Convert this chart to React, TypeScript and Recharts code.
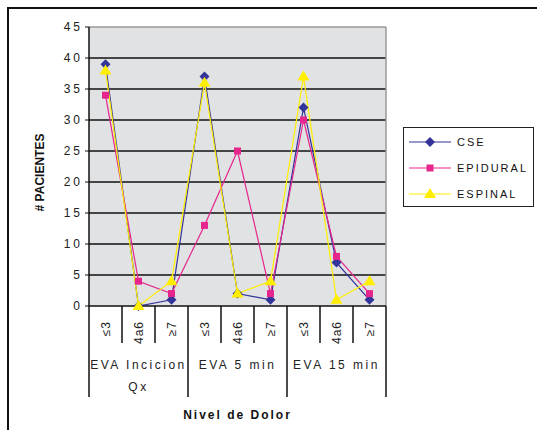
import React from "react";
import {
    LineChart,
    Line,
    XAxis,
    YAxis,
    CartesianGrid,
    ReferenceLine
} from "recharts";

// pain levels inside each EVA block, and the blocks themselves
const levels = ["≤3", "4a6", "≥7"];
const groups = ["EVA Incicion\nQx", "EVA 5 min", "EVA 15 min"];

// patients per level, block by block
const cse = [39, 0, 1, 37, 2, 1, 32, 7, 1];
const epidural = [34, 4, 2, 13, 25, 2, 30, 8, 2];
const espinal = [38, 0, 4, 36, 2, 4, 37, 1, 4];

const yTicks = [0, 5, 10, 15, 20, 25, 30, 35, 40, 45];

const series = [
    { key: "cse", name: "CSE", color: "#333399", shape: "diamond" },
    { key: "epidural", name: "EPIDURAL", color: "#e6268c", shape: "square" },
    { key: "espinal", name: "ESPINAL", color: "#ffee00", shape: "triangle" }
];

const rows = cse.map((v, i) => ({
    pos: i + 0.5,
    cse: v,
    epidural: epidural[i],
    espinal: espinal[i]
}));

// dividers sit on whole numbers, labels on the half steps between them
const xTicks: number[] = [];
for (let i = 0; i <= rows.length * 2; i++) xTicks.push(i / 2);

const FONT = "'Liberation Sans', Arial, sans-serif";

function Marker({ shape, cx, cy, color }: any) {
    if (shape === "diamond") {
        return <polygon points={`${cx},${cy - 5} ${cx + 5},${cy} ${cx},${cy + 5} ${cx - 5},${cy}`} fill={color} />;
    }
    if (shape === "square") {
        return <rect x={cx - 3.5} y={cy - 3.5} width={7} height={7} fill={color} />;
    }
    return <polygon points={`${cx},${cy - 6} ${cx + 6},${cy + 4} ${cx - 6},${cy + 4}`} fill={color} />;
}

function CategoryTick({ x, y, payload }: any) {
    const v = payload.value;
    if (Number.isInteger(v)) {
        const long = v % 3 === 0;
        return <line x1={x} x2={x} y1={y} y2={y + (long ? 91 : 37)} stroke="#111" strokeWidth={1.5} />;
    }
    const i = Math.floor(v);
    const lines = i % 3 === 1 ? groups[Math.floor(i / 3)].split("\n") : [];
    return (
        <g fontFamily={FONT} fill="#222">
            <text
                transform={`translate(${x + 4},${y + 15}) rotate(-90)`}
                textAnchor="end"
                fontSize={12}
                letterSpacing={1}
            >
                {levels[i % 3]}
            </text>
            {lines.map((t, k) => (
                <text key={k} x={x} y={y + 63 + k * 22} textAnchor="middle" fontSize={12} letterSpacing={2.5}>
                    {t}
                </text>
            ))}
        </g>
    );
}

export default function App() {
    return (
        <div style={{ position: "fixed", left: 0, top: 0, width: 537, height: 430, background: "#fff", overflow: "hidden" }}>
            <div style={{ position: "absolute", left: 7, top: 7, width: 560, height: 460, border: "2px solid #111" }} />
            <div style={{ position: "absolute", left: 0, top: 0 }}>
                <LineChart width={537} height={430} data={rows} margin={{ top: 27, right: 151, bottom: 33, left: 29 }}>
                    <CartesianGrid
                        fill="#e1e2e4"
                        vertical={false}
                        horizontalValues={[5, 10, 15, 20, 25, 30, 35, 40]}
                        stroke="#111"
                        strokeWidth={1.5}
                    />
                    <XAxis
                        dataKey="pos"
                        type="number"
                        domain={[0, 9]}
                        ticks={xTicks}
                        interval={0}
                        height={91}
                        tickSize={0}
                        tickMargin={0}
                        tickLine={false}
                        axisLine={{ stroke: "#111", strokeWidth: 1.5 }}
                        tick={<CategoryTick />}
                        label={{
                            content: (p: any) => (
                                <text
                                    x={p.viewBox.x + p.viewBox.width / 2}
                                    y={p.viewBox.y + 113}
                                    textAnchor="middle"
                                    fontFamily={FONT}
                                    fontSize={12}
                                    fontWeight="bold"
                                    letterSpacing={2}
                                    fill="#111"
                                >
                                    Nivel de Dolor
                                </text>
                            )
                        }}
                    />
                    <YAxis
                        domain={[0, 45]}
                        ticks={yTicks}
                        width={60}
                        tickSize={4}
                        tickMargin={2}
                        axisLine={{ stroke: "#111", strokeWidth: 1.5 }}
                        tickLine={{ stroke: "#111" }}
                        tick={{ fontFamily: FONT, fontSize: 12, fill: "#222", letterSpacing: 3 }}
                        label={{
                            content: (p: any) => {
                                const cx = p.viewBox.x + 15;
                                const cy = p.viewBox.y + p.viewBox.height / 2 + 6;
                                return (
                                    <text
                                        transform={`translate(${cx},${cy}) rotate(-90)`}
                                        textAnchor="middle"
                                        fontFamily={FONT}
                                        fontSize={12}
                                        fontWeight="bold"
                                        fill="#111"
                                    >
                                        # PACIENTES
                                    </text>
                                );
                            }
                        }}
                    />
                    <ReferenceLine y={45} stroke="#9a9a9a" strokeWidth={1.5} />
                    <ReferenceLine x={9} stroke="#9a9a9a" strokeWidth={1.5} />
                    {series.map((s) => (
                        <Line
                            key={s.key}
                            dataKey={s.key}
                            name={s.name}
                            type="linear"
                            stroke={s.color}
                            strokeWidth={1.2}
                            isAnimationActive={false}
                            dot={(p: any) => <Marker key={`${s.key}-${p.index}`} shape={s.shape} cx={p.cx} cy={p.cy} color={s.color} />}
                            activeDot={false}
                        />
                    ))}
                </LineChart>
            </div>
            <div
                style={{
                    position: "absolute",
                    left: 403,
                    top: 127,
                    width: 129,
                    height: 78,
                    border: "1.5px solid #222",
                    background: "#fff",
                    fontFamily: FONT,
                    fontSize: 11,
                    letterSpacing: 2,
                    color: "#111"
                }}
            >
                {series.map((s, i) => (
                    <div key={s.key} style={{ position: "absolute", left: 5, top: 6 + i * 26, height: 16, display: "flex", alignItems: "center" }}>
                        <svg width={44} height={16}>
                            <line x1={0} x2={42} y1={8} y2={8} stroke={s.color} strokeWidth={1.2} />
                            <Marker shape={s.shape} cx={21} cy={8} color={s.color} />
                        </svg>
                        <span style={{ marginLeft: 4 }}>{s.name}</span>
                    </div>
                ))}
            </div>
        </div>
    );
}
